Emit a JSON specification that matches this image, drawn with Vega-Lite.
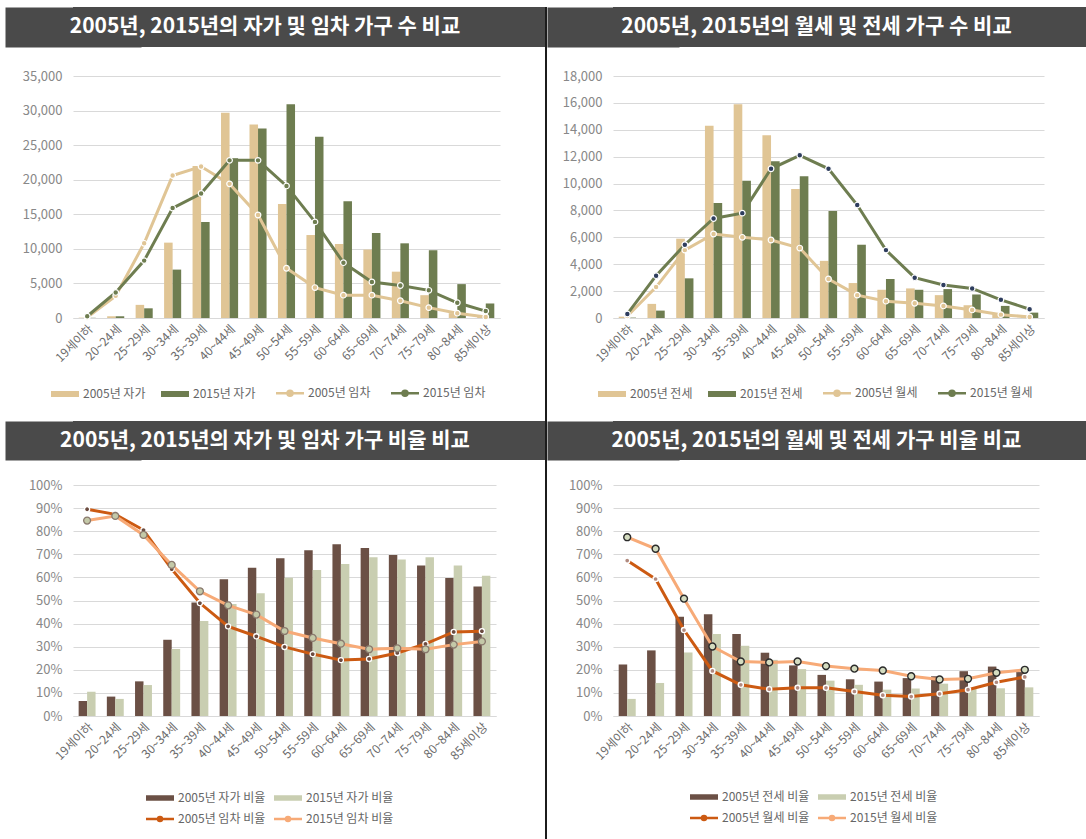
{
  "$schema": "https://vega.github.io/schema/vega-lite/v6.json",
  "background": "white",
  "padding": {"left": 5, "top": 7, "right": 0, "bottom": 0},
  "spacing": 0,
  "resolve": {"scale": {"color": "independent", "xOffset": "independent", "fill": "independent", "stroke": "independent", "size": "independent"}},
  "config": {
    "font": "Noto Sans CJK KR",
    "view": {"stroke": null},
    "axisY": {"grid": true, "gridColor": "#d9d9d9", "gridWidth": 1, "domain": false, "ticks": false, "labelColor": "#888888", "labelFontSize": 13, "labelPadding": 11, "title": null},
    "axisX": {"grid": false, "domain": true, "domainColor": "#d9d9d9", "domainWidth": 1, "ticks": false, "labelAngle": -45, "labelColor": "#6b6b6b", "labelFontSize": 12, "labelPadding": 5, "title": null},
    "legend": {"title": null, "labelFontSize": 12, "labelColor": "#666666", "symbolSize": 100, "labelOffset": 12, "rowPadding": 8}
  },
  "datasets": {
    "households": [
      {"age": "19세이하", "s": "2005년 자가", "v": 50}, {"age": "20~24세", "s": "2005년 자가", "v": 250}, {"age": "25~29세", "s": "2005년 자가", "v": 1900}, {"age": "30~34세", "s": "2005년 자가", "v": 10900}, {"age": "35~39세", "s": "2005년 자가", "v": 22000}, {"age": "40~44세", "s": "2005년 자가", "v": 29700}, {"age": "45~49세", "s": "2005년 자가", "v": 28000}, {"age": "50~54세", "s": "2005년 자가", "v": 16500}, {"age": "55~59세", "s": "2005년 자가", "v": 12000}, {"age": "60~64세", "s": "2005년 자가", "v": 10700}, {"age": "65~69세", "s": "2005년 자가", "v": 9900}, {"age": "70~74세", "s": "2005년 자가", "v": 6700}, {"age": "75~79세", "s": "2005년 자가", "v": 3300}, {"age": "80~84세", "s": "2005년 자가", "v": 700}, {"age": "85세이상", "s": "2005년 자가", "v": 150},
      {"age": "19세이하", "s": "2015년 자가", "v": 30}, {"age": "20~24세", "s": "2015년 자가", "v": 250}, {"age": "25~29세", "s": "2015년 자가", "v": 1400}, {"age": "30~34세", "s": "2015년 자가", "v": 7000}, {"age": "35~39세", "s": "2015년 자가", "v": 13900}, {"age": "40~44세", "s": "2015년 자가", "v": 23100}, {"age": "45~49세", "s": "2015년 자가", "v": 27400}, {"age": "50~54세", "s": "2015년 자가", "v": 30900}, {"age": "55~59세", "s": "2015년 자가", "v": 26200}, {"age": "60~64세", "s": "2015년 자가", "v": 16900}, {"age": "65~69세", "s": "2015년 자가", "v": 12300}, {"age": "70~74세", "s": "2015년 자가", "v": 10800}, {"age": "75~79세", "s": "2015년 자가", "v": 9800}, {"age": "80~84세", "s": "2015년 자가", "v": 4900}, {"age": "85세이상", "s": "2015년 자가", "v": 2100},
      {"age": "19세이하", "s": "2005년 임차", "v": 100}, {"age": "20~24세", "s": "2005년 임차", "v": 3200}, {"age": "25~29세", "s": "2005년 임차", "v": 10800}, {"age": "30~34세", "s": "2005년 임차", "v": 20600}, {"age": "35~39세", "s": "2005년 임차", "v": 21900}, {"age": "40~44세", "s": "2005년 임차", "v": 19400}, {"age": "45~49세", "s": "2005년 임차", "v": 14900}, {"age": "50~54세", "s": "2005년 임차", "v": 7200}, {"age": "55~59세", "s": "2005년 임차", "v": 4400}, {"age": "60~64세", "s": "2005년 임차", "v": 3300}, {"age": "65~69세", "s": "2005년 임차", "v": 3300}, {"age": "70~74세", "s": "2005년 임차", "v": 2500}, {"age": "75~79세", "s": "2005년 임차", "v": 1500}, {"age": "80~84세", "s": "2005년 임차", "v": 700}, {"age": "85세이상", "s": "2005년 임차", "v": 150},
      {"age": "19세이하", "s": "2015년 임차", "v": 250}, {"age": "20~24세", "s": "2015년 임차", "v": 3700}, {"age": "25~29세", "s": "2015년 임차", "v": 8300}, {"age": "30~34세", "s": "2015년 임차", "v": 15900}, {"age": "35~39세", "s": "2015년 임차", "v": 18000}, {"age": "40~44세", "s": "2015년 임차", "v": 22800}, {"age": "45~49세", "s": "2015년 임차", "v": 22800}, {"age": "50~54세", "s": "2015년 임차", "v": 19100}, {"age": "55~59세", "s": "2015년 임차", "v": 13900}, {"age": "60~64세", "s": "2015년 임차", "v": 8000}, {"age": "65~69세", "s": "2015년 임차", "v": 5200}, {"age": "70~74세", "s": "2015년 임차", "v": 4700}, {"age": "75~79세", "s": "2015년 임차", "v": 4000}, {"age": "80~84세", "s": "2015년 임차", "v": 2200}, {"age": "85세이상", "s": "2015년 임차", "v": 1000}
    ],
    "rentals": [
      {"age": "19세이하", "s": "2005년 전세", "v": 100}, {"age": "20~24세", "s": "2005년 전세", "v": 1050}, {"age": "25~29세", "s": "2005년 전세", "v": 5900}, {"age": "30~34세", "s": "2005년 전세", "v": 14300}, {"age": "35~39세", "s": "2005년 전세", "v": 15900}, {"age": "40~44세", "s": "2005년 전세", "v": 13600}, {"age": "45~49세", "s": "2005년 전세", "v": 9600}, {"age": "50~54세", "s": "2005년 전세", "v": 4250}, {"age": "55~59세", "s": "2005년 전세", "v": 2600}, {"age": "60~64세", "s": "2005년 전세", "v": 2100}, {"age": "65~69세", "s": "2005년 전세", "v": 2200}, {"age": "70~74세", "s": "2005년 전세", "v": 1700}, {"age": "75~79세", "s": "2005년 전세", "v": 950}, {"age": "80~84세", "s": "2005년 전세", "v": 300}, {"age": "85세이상", "s": "2005년 전세", "v": 100},
      {"age": "19세이하", "s": "2015년 전세", "v": 30}, {"age": "20~24세", "s": "2015년 전세", "v": 550}, {"age": "25~29세", "s": "2015년 전세", "v": 2950}, {"age": "30~34세", "s": "2015년 전세", "v": 8550}, {"age": "35~39세", "s": "2015년 전세", "v": 10200}, {"age": "40~44세", "s": "2015년 전세", "v": 11650}, {"age": "45~49세", "s": "2015년 전세", "v": 10550}, {"age": "50~54세", "s": "2015년 전세", "v": 7950}, {"age": "55~59세", "s": "2015년 전세", "v": 5450}, {"age": "60~64세", "s": "2015년 전세", "v": 2900}, {"age": "65~69세", "s": "2015년 전세", "v": 2100}, {"age": "70~74세", "s": "2015년 전세", "v": 2150}, {"age": "75~79세", "s": "2015년 전세", "v": 1750}, {"age": "80~84세", "s": "2015년 전세", "v": 900}, {"age": "85세이상", "s": "2015년 전세", "v": 400},
      {"age": "19세이하", "s": "2005년 월세", "v": 150}, {"age": "20~24세", "s": "2005년 월세", "v": 2300}, {"age": "25~29세", "s": "2005년 월세", "v": 5050}, {"age": "30~34세", "s": "2005년 월세", "v": 6250}, {"age": "35~39세", "s": "2005년 월세", "v": 6000}, {"age": "40~44세", "s": "2005년 월세", "v": 5800}, {"age": "45~49세", "s": "2005년 월세", "v": 5200}, {"age": "50~54세", "s": "2005년 월세", "v": 2900}, {"age": "55~59세", "s": "2005년 월세", "v": 1700}, {"age": "60~64세", "s": "2005년 월세", "v": 1250}, {"age": "65~69세", "s": "2005년 월세", "v": 1100}, {"age": "70~74세", "s": "2005년 월세", "v": 900}, {"age": "75~79세", "s": "2005년 월세", "v": 600}, {"age": "80~84세", "s": "2005년 월세", "v": 250}, {"age": "85세이상", "s": "2005년 월세", "v": 75},
      {"age": "19세이하", "s": "2015년 월세", "v": 300}, {"age": "20~24세", "s": "2015년 월세", "v": 3150}, {"age": "25~29세", "s": "2015년 월세", "v": 5450}, {"age": "30~34세", "s": "2015년 월세", "v": 7400}, {"age": "35~39세", "s": "2015년 월세", "v": 7800}, {"age": "40~44세", "s": "2015년 월세", "v": 11100}, {"age": "45~49세", "s": "2015년 월세", "v": 12100}, {"age": "50~54세", "s": "2015년 월세", "v": 11100}, {"age": "55~59세", "s": "2015년 월세", "v": 8400}, {"age": "60~64세", "s": "2015년 월세", "v": 5050}, {"age": "65~69세", "s": "2015년 월세", "v": 3000}, {"age": "70~74세", "s": "2015년 월세", "v": 2450}, {"age": "75~79세", "s": "2015년 월세", "v": 2200}, {"age": "80~84세", "s": "2015년 월세", "v": 1350}, {"age": "85세이상", "s": "2015년 월세", "v": 650}
    ],
    "householdShares": [
      {"age": "19세이하", "s": "2005년 자가 비율", "v": 6.5}, {"age": "20~24세", "s": "2005년 자가 비율", "v": 8.4}, {"age": "25~29세", "s": "2005년 자가 비율", "v": 15.0}, {"age": "30~34세", "s": "2005년 자가 비율", "v": 33.0}, {"age": "35~39세", "s": "2005년 자가 비율", "v": 49.1}, {"age": "40~44세", "s": "2005년 자가 비율", "v": 59.2}, {"age": "45~49세", "s": "2005년 자가 비율", "v": 64.2}, {"age": "50~54세", "s": "2005년 자가 비율", "v": 68.3}, {"age": "55~59세", "s": "2005년 자가 비율", "v": 71.7}, {"age": "60~64세", "s": "2005년 자가 비율", "v": 74.3}, {"age": "65~69세", "s": "2005년 자가 비율", "v": 72.7}, {"age": "70~74세", "s": "2005년 자가 비율", "v": 69.7}, {"age": "75~79세", "s": "2005년 자가 비율", "v": 65.2}, {"age": "80~84세", "s": "2005년 자가 비율", "v": 59.7}, {"age": "85세이상", "s": "2005년 자가 비율", "v": 56.1},
      {"age": "19세이하", "s": "2015년 자가 비율", "v": 10.5}, {"age": "20~24세", "s": "2015년 자가 비율", "v": 7.4}, {"age": "25~29세", "s": "2015년 자가 비율", "v": 13.4}, {"age": "30~34세", "s": "2015년 자가 비율", "v": 29.0}, {"age": "35~39세", "s": "2015년 자가 비율", "v": 41.1}, {"age": "40~44세", "s": "2015년 자가 비율", "v": 48.5}, {"age": "45~49세", "s": "2015년 자가 비율", "v": 53.1}, {"age": "50~54세", "s": "2015년 자가 비율", "v": 59.9}, {"age": "55~59세", "s": "2015년 자가 비율", "v": 63.2}, {"age": "60~64세", "s": "2015년 자가 비율", "v": 65.8}, {"age": "65~69세", "s": "2015년 자가 비율", "v": 68.7}, {"age": "70~74세", "s": "2015년 자가 비율", "v": 67.7}, {"age": "75~79세", "s": "2015년 자가 비율", "v": 68.7}, {"age": "80~84세", "s": "2015년 자가 비율", "v": 65.2}, {"age": "85세이상", "s": "2015년 자가 비율", "v": 60.7},
      {"age": "19세이하", "s": "2005년 임차 비율", "v": 89.5}, {"age": "20~24세", "s": "2005년 임차 비율", "v": 87.3}, {"age": "25~29세", "s": "2005년 임차 비율", "v": 80.5}, {"age": "30~34세", "s": "2005년 임차 비율", "v": 63.6}, {"age": "35~39세", "s": "2005년 임차 비율", "v": 48.9}, {"age": "40~44세", "s": "2005년 임차 비율", "v": 38.8}, {"age": "45~49세", "s": "2005년 임차 비율", "v": 34.5}, {"age": "50~54세", "s": "2005년 임차 비율", "v": 29.9}, {"age": "55~59세", "s": "2005년 임차 비율", "v": 26.8}, {"age": "60~64세", "s": "2005년 임차 비율", "v": 24.2}, {"age": "65~69세", "s": "2005년 임차 비율", "v": 24.7}, {"age": "70~74세", "s": "2005년 임차 비율", "v": 27.3}, {"age": "75~79세", "s": "2005년 임차 비율", "v": 31.2}, {"age": "80~84세", "s": "2005년 임차 비율", "v": 36.4}, {"age": "85세이상", "s": "2005년 임차 비율", "v": 36.7},
      {"age": "19세이하", "s": "2015년 임차 비율", "v": 84.6}, {"age": "20~24세", "s": "2015년 임차 비율", "v": 86.6}, {"age": "25~29세", "s": "2015년 임차 비율", "v": 78.4}, {"age": "30~34세", "s": "2015년 임차 비율", "v": 65.4}, {"age": "35~39세", "s": "2015년 임차 비율", "v": 54.0}, {"age": "40~44세", "s": "2015년 임차 비율", "v": 47.9}, {"age": "45~49세", "s": "2015년 임차 비율", "v": 43.9}, {"age": "50~54세", "s": "2015년 임차 비율", "v": 36.8}, {"age": "55~59세", "s": "2015년 임차 비율", "v": 33.8}, {"age": "60~64세", "s": "2015년 임차 비율", "v": 31.3}, {"age": "65~69세", "s": "2015년 임차 비율", "v": 28.9}, {"age": "70~74세", "s": "2015년 임차 비율", "v": 29.3}, {"age": "75~79세", "s": "2015년 임차 비율", "v": 28.9}, {"age": "80~84세", "s": "2015년 임차 비율", "v": 30.9}, {"age": "85세이상", "s": "2015년 임차 비율", "v": 32.3}
    ],
    "rentalShares": [
      {"age": "19세이하", "s": "2005년 전세 비율", "v": 22.3}, {"age": "20~24세", "s": "2005년 전세 비율", "v": 28.4}, {"age": "25~29세", "s": "2005년 전세 비율", "v": 43.0}, {"age": "30~34세", "s": "2005년 전세 비율", "v": 44.0}, {"age": "35~39세", "s": "2005년 전세 비율", "v": 35.5}, {"age": "40~44세", "s": "2005년 전세 비율", "v": 27.4}, {"age": "45~49세", "s": "2005년 전세 비율", "v": 21.9}, {"age": "50~54세", "s": "2005년 전세 비율", "v": 17.8}, {"age": "55~59세", "s": "2005년 전세 비율", "v": 15.9}, {"age": "60~64세", "s": "2005년 전세 비율", "v": 14.9}, {"age": "65~69세", "s": "2005년 전세 비율", "v": 16.4}, {"age": "70~74세", "s": "2005년 전세 비율", "v": 17.2}, {"age": "75~79세", "s": "2005년 전세 비율", "v": 19.4}, {"age": "80~84세", "s": "2005년 전세 비율", "v": 21.4}, {"age": "85세이상", "s": "2005년 전세 비율", "v": 19.0},
      {"age": "19세이하", "s": "2015년 전세 비율", "v": 7.4}, {"age": "20~24세", "s": "2015년 전세 비율", "v": 14.3}, {"age": "25~29세", "s": "2015년 전세 비율", "v": 27.5}, {"age": "30~34세", "s": "2015년 전세 비율", "v": 35.5}, {"age": "35~39세", "s": "2015년 전세 비율", "v": 30.4}, {"age": "40~44세", "s": "2015년 전세 비율", "v": 24.3}, {"age": "45~49세", "s": "2015년 전세 비율", "v": 20.3}, {"age": "50~54세", "s": "2015년 전세 비율", "v": 15.3}, {"age": "55~59세", "s": "2015년 전세 비율", "v": 13.5}, {"age": "60~64세", "s": "2015년 전세 비율", "v": 11.4}, {"age": "65~69세", "s": "2015년 전세 비율", "v": 11.9}, {"age": "70~74세", "s": "2015년 전세 비율", "v": 14.0}, {"age": "75~79세", "s": "2015년 전세 비율", "v": 12.0}, {"age": "80~84세", "s": "2015년 전세 비율", "v": 12.0}, {"age": "85세이상", "s": "2015년 전세 비율", "v": 12.4},
      {"age": "19세이하", "s": "2005년 월세 비율", "v": 67.3}, {"age": "20~24세", "s": "2005년 월세 비율", "v": 59.3}, {"age": "25~29세", "s": "2005년 월세 비율", "v": 37.2}, {"age": "30~34세", "s": "2005년 월세 비율", "v": 19.5}, {"age": "35~39세", "s": "2005년 월세 비율", "v": 13.5}, {"age": "40~44세", "s": "2005년 월세 비율", "v": 11.6}, {"age": "45~49세", "s": "2005년 월세 비율", "v": 12.2}, {"age": "50~54세", "s": "2005년 월세 비율", "v": 12.2}, {"age": "55~59세", "s": "2005년 월세 비율", "v": 10.6}, {"age": "60~64세", "s": "2005년 월세 비율", "v": 9.0}, {"age": "65~69세", "s": "2005년 월세 비율", "v": 8.4}, {"age": "70~74세", "s": "2005년 월세 비율", "v": 9.6}, {"age": "75~79세", "s": "2005년 월세 비율", "v": 11.4}, {"age": "80~84세", "s": "2005년 월세 비율", "v": 14.6}, {"age": "85세이상", "s": "2005년 월세 비율", "v": 16.9},
      {"age": "19세이하", "s": "2015년 월세 비율", "v": 77.4}, {"age": "20~24세", "s": "2015년 월세 비율", "v": 72.4}, {"age": "25~29세", "s": "2015년 월세 비율", "v": 50.8}, {"age": "30~34세", "s": "2015년 월세 비율", "v": 30.1}, {"age": "35~39세", "s": "2015년 월세 비율", "v": 23.6}, {"age": "40~44세", "s": "2015년 월세 비율", "v": 23.2}, {"age": "45~49세", "s": "2015년 월세 비율", "v": 23.6}, {"age": "50~54세", "s": "2015년 월세 비율", "v": 21.6}, {"age": "55~59세", "s": "2015년 월세 비율", "v": 20.5}, {"age": "60~64세", "s": "2015년 월세 비율", "v": 19.7}, {"age": "65~69세", "s": "2015년 월세 비율", "v": 17.2}, {"age": "70~74세", "s": "2015년 월세 비율", "v": 15.8}, {"age": "75~79세", "s": "2015년 월세 비율", "v": 16.1}, {"age": "80~84세", "s": "2015년 월세 비율", "v": 18.7}, {"age": "85세이상", "s": "2015년 월세 비율", "v": 20.0}
    ]
  },
  "hconcat": [
    {
      "spacing": 20,
      "resolve": {"scale": {"color": "independent", "xOffset": "independent", "fill": "independent", "stroke": "independent", "size": "independent"}},
      "vconcat": [
        {
          "spacing": 23,
          "resolve": {"scale": {"color": "independent", "xOffset": "independent", "fill": "independent", "stroke": "independent", "size": "independent"}},
          "vconcat": [
            {
              "width": 472, "height": 40,
              "view": {"fill": "#4a4a4a", "stroke": null},
              "data": {"values": [{"t": "2005년, 2015년의 자가 및 임차 가구 수 비교"}]},
              "mark": {"type": "text", "color": "white", "fontSize": 21, "fontWeight": "bold", "baseline": "middle", "align": "center", "dx": -44},
              "encoding": {
                "text": {"field": "t"},
                "y": {"datum": 0, "type": "quantitative", "scale": {"domain": [-1, 1]}, "axis": {"labels": false, "ticks": false, "grid": false, "domain": true, "domainWidth": 136, "domainColor": "#4a4a4a", "minExtent": 0, "maxExtent": 0}}
              }
            },
            {
              "width": 427, "height": 242,
              "data": {"name": "households"},
              "encoding": {
                "x": {"field": "age", "type": "nominal", "sort": ["19세이하","20~24세","25~29세","30~34세","35~39세","40~44세","45~49세","50~54세","55~59세","60~64세","65~69세","70~74세","75~79세","80~84세","85세이상"], "scale": {"paddingInner": 0.4, "paddingOuter": 0.2}, "axis": {"labelAngle": -45}},
                "y": {"field": "v", "type": "quantitative", "scale": {"domain": [0, 35000]}, "axis": {"values": [0,5000,10000,15000,20000,25000,30000,35000], "format": ",d", "minExtent": 68, "maxExtent": 68}}
              },
              "layer": [
                {
                  "transform": [{"filter": {"field": "s", "oneOf": ["2005년 자가", "2015년 자가"]}}],
                  "mark": {"type": "bar"},
                  "encoding": {
                    "xOffset": {"field": "s", "sort": ["2005년 자가", "2015년 자가"]},
                    "color": {"field": "s", "type": "nominal",
                      "scale": {"domain": ["2005년 자가", "2015년 자가", "2005년 임차", "2015년 임차"], "range": ["#e0c595", "#6e7d50", "#e0c595", "#6e7d50"]},
                      "legend": {"orient": "none", "legendX": -14, "legendY": 311, "direction": "horizontal", "columns": 4, "columnPadding": 15,
                        "encode": {"symbols": {"update": {
                          "shape": {"signal": "datum.index >= 2 ? 'M-2.8,0H2.8M0.5,0A0.5,0.5 0 1,1 -0.5,0A0.5,0.5 0 1,1 0.5,0' : 'M-2.8,-0.6H2.8V0.6H-2.8Z'"},
                          "fill": {"signal": "['#e0c595','#6e7d50','#e0c595','#6e7d50'][datum.index]"},
                          "stroke": {"signal": "['#e0c595','#6e7d50','#e0c595','#6e7d50'][datum.index]"},
                          "strokeWidth": {"signal": "datum.index >= 2 ? 2.5 : 0"},
                          "opacity": {"value": 1}
                        }}}}
                    }
                  }
                },
                {
                  "transform": [{"filter": {"field": "s", "oneOf": ["2005년 임차", "2015년 임차"]}}],
                  "mark": {"type": "line", "strokeWidth": 3},
                  "encoding": {"color": {"field": "s", "type": "nominal"}}
                },
                {
                  "transform": [{"filter": {"field": "s", "oneOf": ["2005년 임차", "2015년 임차"]}}],
                  "mark": {"type": "point", "filled": true, "size": 32, "strokeWidth": 1.2, "opacity": 1, "strokeOpacity": 1},
                  "encoding": {
                    "fill": {"field": "s", "type": "nominal", "scale": {"domain": ["2005년 임차", "2015년 임차"], "range": ["#e0c595", "#6e7d50"]}, "legend": null},
                    "stroke": {"value": "white"}
                  }
                }
              ]
            }
          ]
        },
        {
          "spacing": 19,
          "resolve": {"scale": {"color": "independent", "xOffset": "independent", "fill": "independent", "stroke": "independent", "size": "independent"}},
          "vconcat": [
            {
              "width": 472, "height": 39,
              "view": {"fill": "#4a4a4a", "stroke": null},
              "data": {"values": [{"t": "2005년, 2015년의 자가 및 임차 가구 비율 비교"}]},
              "mark": {"type": "text", "color": "white", "fontSize": 21, "fontWeight": "bold", "baseline": "middle", "align": "center", "dx": -44},
              "encoding": {
                "text": {"field": "t"},
                "y": {"datum": 0, "type": "quantitative", "scale": {"domain": [-1, 1]}, "axis": {"labels": false, "ticks": false, "grid": false, "domain": true, "domainWidth": 136, "domainColor": "#4a4a4a", "minExtent": 0, "maxExtent": 0}}
              }
            },
            {
              "width": 423, "height": 231,
              "data": {"name": "householdShares"},
              "encoding": {
                "x": {"field": "age", "type": "nominal", "sort": ["19세이하","20~24세","25~29세","30~34세","35~39세","40~44세","45~49세","50~54세","55~59세","60~64세","65~69세","70~74세","75~79세","80~84세","85세이상"], "scale": {"paddingInner": 0.4, "paddingOuter": 0.2}, "axis": {"labelAngle": -45}},
                "y": {"field": "v", "type": "quantitative", "scale": {"domain": [0, 100]}, "axis": {"values": [0,10,20,30,40,50,60,70,80,90,100], "labelExpr": "datum.value + '%'", "minExtent": 68, "maxExtent": 68}}
              },
              "layer": [
                {
                  "transform": [{"filter": {"field": "s", "oneOf": ["2005년 자가 비율", "2015년 자가 비율"]}}],
                  "mark": {"type": "bar"},
                  "encoding": {
                    "xOffset": {"field": "s", "sort": ["2005년 자가 비율", "2015년 자가 비율"]},
                    "color": {"field": "s", "type": "nominal",
                      "scale": {"domain": ["2005년 자가 비율", "2015년 자가 비율", "2005년 임차 비율", "2015년 임차 비율"], "range": ["#6b5045", "#c9ceb1", "#cc5a12", "#f7aa77"]},
                      "legend": {"orient": "none", "legendX": 81, "legendY": 307, "direction": "horizontal", "columns": 2, "columnPadding": 3,
                        "encode": {"symbols": {"update": {
                          "shape": {"signal": "datum.index >= 2 ? 'M-2.8,0H2.8M0.4,0A0.4,0.4 0 1,1 -0.4,0A0.4,0.4 0 1,1 0.4,0' : 'M-2.8,-0.55H2.8V0.55H-2.8Z'"},
                          "fill": {"signal": "['#6b5045','#c9ceb1','#6b4b3f','#c9ceb1'][datum.index]"},
                          "stroke": {"signal": "['#6b5045','#c9ceb1','#cc5a12','#f7aa77'][datum.index]"},
                          "strokeWidth": {"signal": "datum.index >= 2 ? 2.5 : 0"},
                          "opacity": {"value": 1}
                        }}}}
                    }
                  }
                },
                {
                  "transform": [{"filter": {"field": "s", "oneOf": ["2005년 임차 비율", "2015년 임차 비율"]}}],
                  "mark": {"type": "line", "strokeWidth": 3},
                  "encoding": {"color": {"field": "s", "type": "nominal"}}
                },
                {
                  "transform": [{"filter": {"field": "s", "oneOf": ["2005년 임차 비율", "2015년 임차 비율"]}}],
                  "mark": {"type": "point", "filled": true, "opacity": 1, "strokeOpacity": 1},
                  "encoding": {
                    "fill": {"field": "s", "type": "nominal", "scale": {"domain": ["2005년 임차 비율", "2015년 임차 비율"], "range": ["#6b4b3f", "#c4c9a8"]}, "legend": null},
                    "stroke": {"field": "s", "type": "nominal", "scale": {"domain": ["2005년 임차 비율", "2015년 임차 비율"], "range": ["white", "#8a7a6e"]}, "legend": null},
                    "size": {"field": "s", "type": "nominal", "scale": {"domain": ["2005년 임차 비율", "2015년 임차 비율"], "range": [26, 48]}, "legend": null},
                    "strokeWidth": {"value": 1.3}
                  }
                }
              ]
            }
          ]
        }
      ]
    },
    {
      "width": 2, "height": 840,
      "data": {"values": [{}]},
      "mark": {"type": "rect", "color": "#1c1c1c"},
      "encoding": {}
    },
    {
      "spacing": 20,
      "resolve": {"scale": {"color": "independent", "xOffset": "independent", "fill": "independent", "stroke": "independent", "size": "independent"}},
      "vconcat": [
        {
          "spacing": 23,
          "resolve": {"scale": {"color": "independent", "xOffset": "independent", "fill": "independent", "stroke": "independent", "size": "independent"}},
          "vconcat": [
            {
              "width": 473, "height": 40,
              "view": {"fill": "#4a4a4a", "stroke": null},
              "data": {"values": [{"t": "2005년, 2015년의 월세 및 전세 가구 수 비교"}]},
              "mark": {"type": "text", "color": "white", "fontSize": 21, "fontWeight": "bold", "baseline": "middle", "align": "center", "dx": -33},
              "encoding": {
                "text": {"field": "t"},
                "y": {"datum": 0, "type": "quantitative", "scale": {"domain": [-1, 1]}, "axis": {"labels": false, "ticks": false, "grid": false, "domain": true, "domainWidth": 132, "domainColor": "#4a4a4a", "minExtent": 0, "maxExtent": 0}}
              }
            },
            {
              "width": 431, "height": 242,
              "data": {"name": "rentals"},
              "encoding": {
                "x": {"field": "age", "type": "nominal", "sort": ["19세이하","20~24세","25~29세","30~34세","35~39세","40~44세","45~49세","50~54세","55~59세","60~64세","65~69세","70~74세","75~79세","80~84세","85세이상"], "scale": {"paddingInner": 0.4, "paddingOuter": 0.2}, "axis": {"labelAngle": -45}},
                "y": {"field": "v", "type": "quantitative", "scale": {"domain": [0, 18000]}, "axis": {"values": [0,2000,4000,6000,8000,10000,12000,14000,16000,18000], "format": ",d", "minExtent": 66, "maxExtent": 66}}
              },
              "layer": [
                {
                  "transform": [{"filter": {"field": "s", "oneOf": ["2005년 전세", "2015년 전세"]}}],
                  "mark": {"type": "bar"},
                  "encoding": {
                    "xOffset": {"field": "s", "sort": ["2005년 전세", "2015년 전세"]},
                    "color": {"field": "s", "type": "nominal",
                      "scale": {"domain": ["2005년 전세", "2015년 전세", "2005년 월세", "2015년 월세"], "range": ["#e0c595", "#6e7d50", "#e0c595", "#6e7d50"]},
                      "legend": {"orient": "none", "legendX": -7, "legendY": 311, "direction": "horizontal", "columns": 4, "columnPadding": 15,
                        "encode": {"symbols": {"update": {
                          "shape": {"signal": "datum.index >= 2 ? 'M-2.8,0H2.8M0.5,0A0.5,0.5 0 1,1 -0.5,0A0.5,0.5 0 1,1 0.5,0' : 'M-2.8,-0.6H2.8V0.6H-2.8Z'"},
                          "fill": {"signal": "['#e0c595','#6e7d50','#e0c595','#2e3d5e'][datum.index]"},
                          "stroke": {"signal": "['#e0c595','#6e7d50','#e0c595','#6e7d50'][datum.index]"},
                          "strokeWidth": {"signal": "datum.index >= 2 ? 2.5 : 0"},
                          "opacity": {"value": 1}
                        }}}}
                    }
                  }
                },
                {
                  "transform": [{"filter": {"field": "s", "oneOf": ["2005년 월세", "2015년 월세"]}}],
                  "mark": {"type": "line", "strokeWidth": 3},
                  "encoding": {"color": {"field": "s", "type": "nominal"}}
                },
                {
                  "transform": [{"filter": {"field": "s", "oneOf": ["2005년 월세", "2015년 월세"]}}],
                  "mark": {"type": "point", "filled": true, "size": 32, "strokeWidth": 1.2, "opacity": 1, "strokeOpacity": 1},
                  "encoding": {
                    "fill": {"field": "s", "type": "nominal", "scale": {"domain": ["2005년 월세", "2015년 월세"], "range": ["#e0c595", "#2e3d5e"]}, "legend": null},
                    "stroke": {"value": "white"}
                  }
                }
              ]
            }
          ]
        },
        {
          "spacing": 19,
          "resolve": {"scale": {"color": "independent", "xOffset": "independent", "fill": "independent", "stroke": "independent", "size": "independent"}},
          "vconcat": [
            {
              "width": 473, "height": 39,
              "view": {"fill": "#4a4a4a", "stroke": null},
              "data": {"values": [{"t": "2005년, 2015년의 월세 및 전세 가구 비율 비교"}]},
              "mark": {"type": "text", "color": "white", "fontSize": 21, "fontWeight": "bold", "baseline": "middle", "align": "center", "dx": -33},
              "encoding": {
                "text": {"field": "t"},
                "y": {"datum": 0, "type": "quantitative", "scale": {"domain": [-1, 1]}, "axis": {"labels": false, "ticks": false, "grid": false, "domain": true, "domainWidth": 132, "domainColor": "#4a4a4a", "minExtent": 0, "maxExtent": 0}}
              }
            },
            {
              "width": 426, "height": 231,
              "data": {"name": "rentalShares"},
              "encoding": {
                "x": {"field": "age", "type": "nominal", "sort": ["19세이하","20~24세","25~29세","30~34세","35~39세","40~44세","45~49세","50~54세","55~59세","60~64세","65~69세","70~74세","75~79세","80~84세","85세이상"], "scale": {"paddingInner": 0.4, "paddingOuter": 0.2}, "axis": {"labelAngle": -45}},
                "y": {"field": "v", "type": "quantitative", "scale": {"domain": [0, 100]}, "axis": {"values": [0,10,20,30,40,50,60,70,80,90,100], "labelExpr": "datum.value + '%'", "minExtent": 66, "maxExtent": 66}}
              },
              "layer": [
                {
                  "transform": [{"filter": {"field": "s", "oneOf": ["2005년 전세 비율", "2015년 전세 비율"]}}],
                  "mark": {"type": "bar"},
                  "encoding": {
                    "xOffset": {"field": "s", "sort": ["2005년 전세 비율", "2015년 전세 비율"]},
                    "color": {"field": "s", "type": "nominal",
                      "scale": {"domain": ["2005년 전세 비율", "2015년 전세 비율", "2005년 월세 비율", "2015년 월세 비율"], "range": ["#6b5045", "#c9ceb1", "#cc5a12", "#f7aa77"]},
                      "legend": {"orient": "none", "legendX": 85, "legendY": 306, "direction": "horizontal", "columns": 2, "columnPadding": 3,
                        "encode": {"symbols": {"update": {
                          "shape": {"signal": "datum.index >= 2 ? 'M-2.8,0H2.8M0.4,0A0.4,0.4 0 1,1 -0.4,0A0.4,0.4 0 1,1 0.4,0' : 'M-2.8,-0.55H2.8V0.55H-2.8Z'"},
                          "fill": {"signal": "['#6b5045','#c9ceb1','#b08a7f','#d4dcc0'][datum.index]"},
                          "stroke": {"signal": "['#6b5045','#c9ceb1','#cc5a12','#f7aa77'][datum.index]"},
                          "strokeWidth": {"signal": "datum.index >= 2 ? 2.5 : 0"},
                          "opacity": {"value": 1}
                        }}}}
                    }
                  }
                },
                {
                  "transform": [{"filter": {"field": "s", "oneOf": ["2005년 월세 비율", "2015년 월세 비율"]}}],
                  "mark": {"type": "line", "strokeWidth": 3},
                  "encoding": {"color": {"field": "s", "type": "nominal"}}
                },
                {
                  "transform": [{"filter": {"field": "s", "oneOf": ["2005년 월세 비율", "2015년 월세 비율"]}}],
                  "mark": {"type": "point", "filled": true, "opacity": 1, "strokeOpacity": 1},
                  "encoding": {
                    "fill": {"field": "s", "type": "nominal", "scale": {"domain": ["2005년 월세 비율", "2015년 월세 비율"], "range": ["#b08a7f", "#d4dcc0"]}, "legend": null},
                    "stroke": {"field": "s", "type": "nominal", "scale": {"domain": ["2005년 월세 비율", "2015년 월세 비율"], "range": ["white", "#2b2b2b"]}, "legend": null},
                    "size": {"field": "s", "type": "nominal", "scale": {"domain": ["2005년 월세 비율", "2015년 월세 비율"], "range": [26, 48]}, "legend": null},
                    "strokeWidth": {"value": 1.4}
                  }
                }
              ]
            }
          ]
        }
      ]
    }
  ]
}
